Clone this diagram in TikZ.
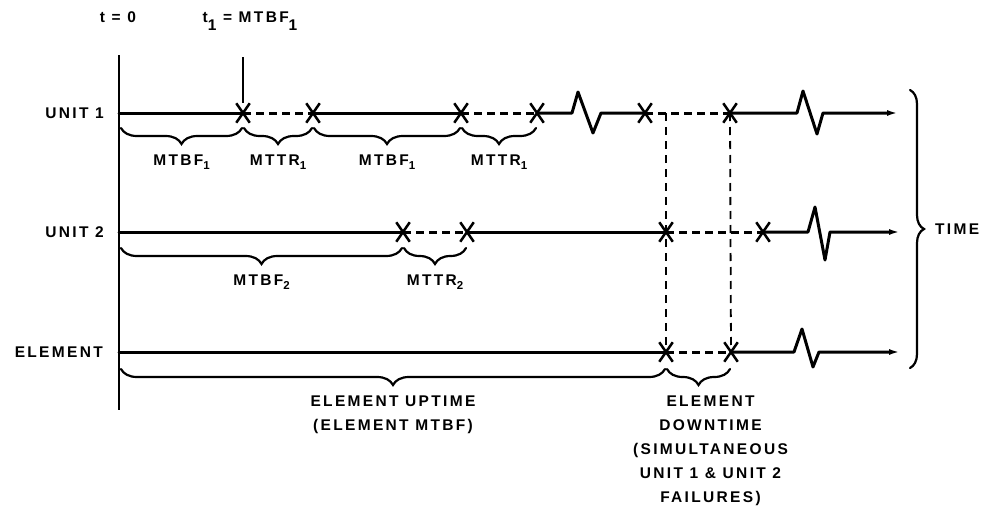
\documentclass[tikz,border=0pt]{standalone}
\usepackage{fontspec}
\setmainfont{Liberation Sans}[LetterSpace=15]
\usepackage{tikz}
\usetikzlibrary{arrows.meta,calc,positioning,shapes.misc,decorations.pathreplacing}

\newcommand{\lowix}[2][4pt]{\raisebox{-#1}{\fontsize{11.5}{11.5}\selectfont #2}}

\begin{document}
\begin{tikzpicture}[x=1pt,y=-1pt,
    tline/.style={
        black,
        line width=3pt,
        line cap=round,
        line join=round
    },
    tlineDown/.style={
        black,
        line width=3pt,
        dash pattern=on 8pt off 5pt
    },
    dropLine/.style={
        black,
        line width=1.8pt,
        dash pattern=on 8pt off 6pt
    },
    axisLine/.style={
        black,
        line width=2pt
    },
    failX/.style={
        cross out,
        draw=black,
        line width=2.5pt,
        minimum width=11pt,
        minimum height=17pt,
        inner sep=0pt
    },
    spanBrace/.style={
        decorate,
        decoration={brace,amplitude=16pt,mirror},
        line width=2.2pt,
        line cap=round
    },
    timeBrace/.style={
        decorate,
        decoration={brace,amplitude=14pt},
        line width=2.2pt,
        line cap=round
    },
    tag/.style={
        font=\fontsize{15.5}{24}\selectfont\bfseries,
        inner sep=0pt,
        align=center
    }
]

% time axis and first failure tick
\coordinate (axisTop) at (119,55);
\coordinate (axisBot) at (119,410);
\coordinate (tickTop) at (243,57);
\draw[axisLine] (axisTop) -- (axisBot);

\node[tag,anchor=base] (lblStart) at (118,22) {t = 0};
\node[tag,anchor=base] (lblFirst) at (250,22)
{t\raisebox{-9pt}{1} = MTBF\raisebox{-9pt}{1}};

% event points, unit 1
\coordinate (u1s) at (119,113);
\coordinate (f1a) at (243,113);
\coordinate (r1a) at (313,113);
\coordinate (f1b) at (461,113);
\coordinate (r1b) at (537,113);
\coordinate (f1c) at (645,113);
\coordinate (u1drop) at (666,113);
\coordinate (r1c) at (730,113);
\coordinate (u1e) at (898,113);

% event points, unit 2
\coordinate (u2s) at (119,232);
\coordinate (f2a) at (403,232);
\coordinate (r2a) at (467,232);
\coordinate (f2b) at (666,232);
\coordinate (r2b) at (763,232);
\coordinate (u2e) at (900,232);

% event points, element
\coordinate (els) at (119,352);
\coordinate (fe) at (666,352);
\coordinate (re) at (731,352);
\coordinate (ele) at (900,352);

\node[tag,anchor=east] (lblUnitA) at (104,113) {UNIT 1};
\node[tag,anchor=east] (lblUnitB) at (104,232) {UNIT 2};
\node[tag,anchor=east] (lblElem) at (103,352) {ELEMENT};

% unit 1 line
\draw[tline] (u1s) -- (f1a);
\draw[tlineDown] (f1a) -- (r1a);
\draw[tline] (r1a) -- (f1b);
\draw[tlineDown] (f1b) -- (r1b);
\draw[tline]
(r1b) -- (572,113) -- (578,92) -- (593,133) -- (601,113) -- (f1c);
\draw[tlineDown] (f1c) -- (r1c);
\draw[tline,-{Latex[length=11pt,width=6pt]}]
(r1c) -- (797,113) -- (803,91) -- (817,134) -- (823,113) -- (u1e);

% unit 2 line
\draw[tline] (u2s) -- (f2a);
\draw[tlineDown] (f2a) -- (r2a);
\draw[tline] (r2a) -- (f2b);
\draw[tlineDown] (f2b) -- (r2b);
\draw[tline,-{Latex[length=11pt,width=6pt]}]
(r2b) -- (808,232) -- (815,207) -- (825,260) -- (830,232) -- (u2e);

% element line
\draw[tline] (els) -- (fe);
\draw[tlineDown] (fe) -- (re);
\draw[tline,-{Latex[length=11pt,width=6pt]}]
(re) -- (794,352) -- (802,329) -- (813,367) -- (819,352) -- (ele);

% failures and repairs
\node[failX] (xf1a) at (f1a) {};
\node[failX] (xr1a) at (r1a) {};
\node[failX] (xf1b) at (f1b) {};
\node[failX] (xr1b) at (r1b) {};
\node[failX] (xf1c) at (f1c) {};
\node[failX] (xr1c) at (r1c) {};
\node[failX] (xf2a) at (f2a) {};
\node[failX] (xr2a) at (r2a) {};
\node[failX] (xf2b) at (f2b) {};
\node[failX] (xr2b) at (r2b) {};
\node[failX] (xfe) at (fe) {};
\node[failX] (xre) at (re) {};

\draw[axisLine] (tickTop) -- (xf1a.north);

% simultaneous down periods
\draw[dropLine] (u1drop) -- (xfe.center);
\draw[dropLine] (xr1c.center) -- (xre.center);

% spans, unit 1
\draw[spanBrace] ($(u1s)+(2,15)$)
-- node[tag,below=26pt] (tagMtbfA) {MTBF\lowix{1}}
($(f1a)+(-1,15)$);
\draw[spanBrace] ($(f1a)+(1,15)$)
-- node[tag,below=26pt] (tagMttrA) {MTTR\lowix{1}}
($(r1a)+(-1,15)$);
\draw[spanBrace] ($(r1a)+(1,15)$)
-- node[tag,below=26pt] (tagMtbfB) {MTBF\lowix{1}}
($(f1b)+(-1,15)$);
\draw[spanBrace] ($(f1b)+(1,15)$)
-- node[tag,below=26pt] (tagMttrB) {MTTR\lowix{1}}
($(r1b)+(-1,15)$);

% spans, unit 2
\draw[spanBrace] ($(u2s)+(2,16)$)
-- node[tag,below=26pt] (tagMtbfC) {MTBF\lowix{2}}
($(f2a)+(-1,16)$);
\draw[spanBrace] ($(f2a)+(1,16)$)
-- node[tag,below=26pt] (tagMttrC) {MTTR\lowix{2}}
($(r2a)+(-1,16)$);

% spans, element
\draw[spanBrace] ($(els)+(2,17)$)
-- node[tag,below=26pt] (tagUp) {ELEMENT UPTIME\\(ELEMENT MTBF)}
($(fe)+(-1,17)$);
\draw[spanBrace] ($(fe)+(1,17)$)
-- node[tag,below=26pt,xshift=12pt] (tagDown)
{ELEMENT\\DOWNTIME\\(SIMULTANEOUS\\UNIT 1 \& UNIT 2\\FAILURES)}
($(re)+(-1,17)$);

% time brace
\draw[timeBrace] (910,90)
-- node[tag,right=24pt] (tagTime) {TIME}
(910,368);

\pgfresetboundingbox
\path[use as bounding box] (0,0) rectangle (986,514);
\end{tikzpicture}
\end{document}
